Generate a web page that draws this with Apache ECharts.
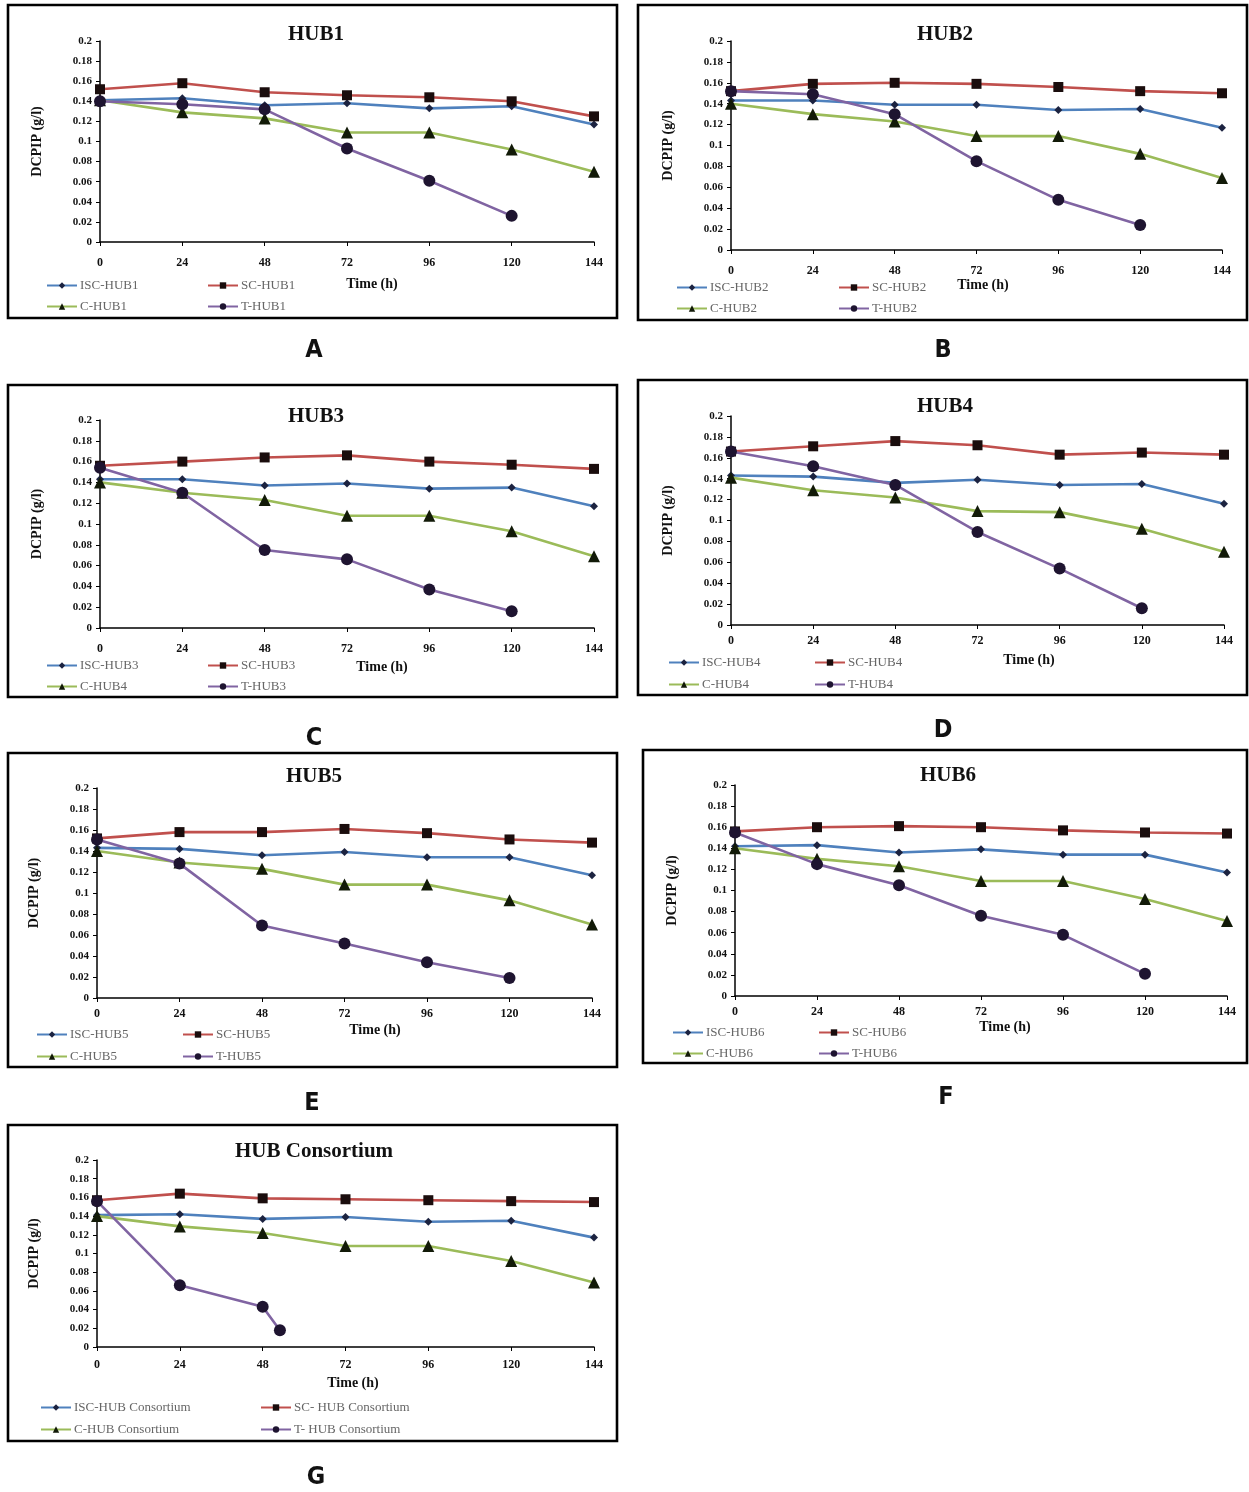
<!DOCTYPE html>
<html>
<head>
<meta charset="utf-8">
<script src="https://cdn.jsdelivr.net/npm/echarts@6/dist/echarts.min.js"></script>
<style>
html,body{margin:0;padding:0;background:#fff;}
#c{width:1249px;height:1492px;}
</style>
</head>
<body>
<div id="c"></div>
<script>
// ---------- DATA ----------
const times = [0, 24, 48, 72, 96, 120, 144];
const xTicks = [0, 24, 48, 72, 96, 120, 144];
const yTicks = [0, 0.02, 0.04, 0.06, 0.08, 0.1, 0.12, 0.14, 0.16, 0.18, 0.2];

const titles = ['HUB1', 'HUB2', 'HUB3', 'HUB4', 'HUB5', 'HUB6', 'HUB Consortium'];
const panelLetters = ['A', 'B', 'C', 'D', 'E', 'F', 'G'];

const names1 = ['ISC-HUB1', 'SC-HUB1', 'C-HUB1', 'T-HUB1'];
const names2 = ['ISC-HUB2', 'SC-HUB2', 'C-HUB2', 'T-HUB2'];
const names3 = ['ISC-HUB3', 'SC-HUB3', 'C-HUB4', 'T-HUB3'];
const names4 = ['ISC-HUB4', 'SC-HUB4', 'C-HUB4', 'T-HUB4'];
const names5 = ['ISC-HUB5', 'SC-HUB5', 'C-HUB5', 'T-HUB5'];
const names6 = ['ISC-HUB6', 'SC-HUB6', 'C-HUB6', 'T-HUB6'];
const names7 = ['ISC-HUB Consortium', 'SC- HUB Consortium', 'C-HUB Consortium', 'T- HUB Consortium'];

const hub1_ISC = [0.141, 0.143, 0.136, 0.138, 0.133, 0.135, 0.117];
const hub1_SC  = [0.152, 0.158, 0.149, 0.146, 0.144, 0.140, 0.125];
const hub1_C   = [0.141, 0.129, 0.123, 0.109, 0.109, 0.092, 0.070];
const hub1_T   = [0.140, 0.137, 0.132, 0.093, 0.061, 0.026];

const hub2_ISC = [0.143, 0.143, 0.139, 0.139, 0.134, 0.135, 0.117];
const hub2_SC  = [0.152, 0.159, 0.160, 0.159, 0.156, 0.152, 0.150];
const hub2_C   = [0.140, 0.130, 0.123, 0.109, 0.109, 0.092, 0.069];
const hub2_T   = [0.152, 0.149, 0.130, 0.085, 0.048, 0.024];

const hub3_ISC = [0.143, 0.143, 0.137, 0.139, 0.134, 0.135, 0.117];
const hub3_SC  = [0.156, 0.160, 0.164, 0.166, 0.160, 0.157, 0.153];
const hub3_C   = [0.140, 0.130, 0.123, 0.108, 0.108, 0.093, 0.069];
const hub3_T   = [0.154, 0.130, 0.075, 0.066, 0.037, 0.016];

const hub4_ISC = [0.143, 0.142, 0.136, 0.139, 0.134, 0.135, 0.116];
const hub4_SC  = [0.166, 0.171, 0.176, 0.172, 0.163, 0.165, 0.163];
const hub4_C   = [0.141, 0.129, 0.122, 0.109, 0.108, 0.092, 0.070];
const hub4_T   = [0.166, 0.152, 0.134, 0.089, 0.054, 0.016];

const hub5_ISC = [0.143, 0.142, 0.136, 0.139, 0.134, 0.134, 0.117];
const hub5_SC  = [0.152, 0.158, 0.158, 0.161, 0.157, 0.151, 0.148];
const hub5_C   = [0.140, 0.129, 0.123, 0.108, 0.108, 0.093, 0.070];
const hub5_T   = [0.151, 0.128, 0.069, 0.052, 0.034, 0.019];

const hub6_ISC = [0.142, 0.143, 0.136, 0.139, 0.134, 0.134, 0.117];
const hub6_SC  = [0.156, 0.160, 0.161, 0.160, 0.157, 0.155, 0.154];
const hub6_C   = [0.140, 0.130, 0.123, 0.109, 0.109, 0.092, 0.071];
const hub6_T   = [0.155, 0.125, 0.105, 0.076, 0.058, 0.021];

const hub7_ISC = [0.141, 0.142, 0.137, 0.139, 0.134, 0.135, 0.117];
const hub7_SC  = [0.157, 0.164, 0.159, 0.158, 0.157, 0.156, 0.155];
const hub7_C   = [0.140, 0.129, 0.122, 0.108, 0.108, 0.092, 0.069];
const hub7_T   = [0.156, 0.066, 0.043, 0.018];
const hub7_T_times = [0, 24, 48, 53];

const allNames = [names1, names2, names3, names4, names5, names6, names7];
const allData = [
  [hub1_ISC, hub1_SC, hub1_C, hub1_T],
  [hub2_ISC, hub2_SC, hub2_C, hub2_T],
  [hub3_ISC, hub3_SC, hub3_C, hub3_T],
  [hub4_ISC, hub4_SC, hub4_C, hub4_T],
  [hub5_ISC, hub5_SC, hub5_C, hub5_T],
  [hub6_ISC, hub6_SC, hub6_C, hub6_T],
  [hub7_ISC, hub7_SC, hub7_C, hub7_T]
];
const tTimes = [times, times, times, times, times, times, hub7_T_times];

// ---------- LAYOUT / STYLE ----------
const layout = [
  {box:[8,5,617,318],    grid:[100,41,594,242],   xl:264,  leg:[285,305], legX:[46,207],  time:[372,284],  title:[314,31],   letter:[314,350]},
  {box:[638,5,1247,320], grid:[731,41,1222,250],  xl:272,  leg:[287,307], legX:[676,838], time:[983,285],  title:[943,31],   letter:[943,350]},
  {box:[8,385,617,697],  grid:[100,420,594,628],  xl:650,  leg:[665,685], legX:[46,207],  time:[382,667],  title:[314,413],  letter:[314,738]},
  {box:[638,380,1247,695],grid:[731,416,1224,625],xl:642,  leg:[662,683], legX:[668,814], time:[1029,660], title:[943,403],  letter:[943,730]},
  {box:[8,753,617,1067], grid:[97,788,592,998],   xl:1015, leg:[1034,1055],legX:[36,182], time:[375,1030], title:[312,773],  letter:[312,1103]},
  {box:[643,750,1247,1063],grid:[735,785,1227,996],xl:1013,leg:[1032,1052],legX:[672,818],time:[1005,1027],title:[946,772],  letter:[946,1097]},
  {box:[8,1125,617,1441],grid:[97,1160,594,1347], xl:1366, leg:[1407,1428],legX:[40,260], time:[353,1383], title:[312,1148], letter:[316,1477]}
];

const lineColors = ['#4F81BD', '#C0504D', '#9BBB59', '#8064A2'];
const markerColors = ['#1c2340', '#1a0d0d', '#121a08', '#1e1430'];
const symbols = ['diamond', 'rect', 'triangle', 'circle'];
const symbolSizes = [8, 10, 12, 12];
const SERIF = '"Liberation Serif", "Times New Roman", serif';

const grids = [], xAxes = [], yAxes = [], series = [], legends = [], titleComps = [], graphics = [];

layout.forEach((L, i) => {
  const [gl, gt, gr, gb] = L.grid;
  grids.push({left: gl, top: gt, width: gr - gl, height: gb - gt, containLabel: false});
  xAxes.push({
    type: 'value', gridIndex: i, min: xTicks[0], max: xTicks[xTicks.length - 1], interval: 24,
    axisLine: {show: true, lineStyle: {color: '#000', width: 1.5}},
    axisTick: {show: true, inside: false, length: 4, lineStyle: {color: '#000'}},
    axisLabel: {color: '#111', fontFamily: SERIF, fontWeight: 'bold', fontSize: 12, margin: L.xl - gb - 7},
    splitLine: {show: false}
  });
  yAxes.push({
    type: 'value', gridIndex: i, min: yTicks[0], max: yTicks[yTicks.length - 1], interval: 0.02,
    axisLine: {show: true, lineStyle: {color: '#000', width: 1.5}},
    axisTick: {show: true, length: 4, lineStyle: {color: '#000'}},
    axisLabel: {color: '#111', fontFamily: SERIF, fontWeight: 'bold', fontSize: 11, margin: 8},
    splitLine: {show: false},
    name: 'DCPIP (g/l)', nameLocation: 'middle', nameRotate: 90, nameGap: 56,
    nameTextStyle: {color: '#111', fontFamily: SERIF, fontWeight: 'bold', fontSize: 14}
  });
  const names = allNames[i];
  allData[i].forEach((vals, k) => {
    const ts = k === 3 ? tTimes[i] : times;
    series.push({
      type: 'line', name: names[k], xAxisIndex: i, yAxisIndex: i,
      data: vals.map((v, j) => [ts[j], v]),
      symbol: symbols[k], symbolSize: symbolSizes[k], showAllSymbol: true,
      lineStyle: {color: lineColors[k], width: 2.6},
      itemStyle: {color: markerColors[k], borderWidth: 0},
      z: 2 + k, animation: false
    });
  });
  titleComps.push({
    text: titles[i], left: L.title[0] - 3, top: L.title[1] - 12, textAlign: 'center',
    textStyle: {fontFamily: SERIF, fontWeight: 'bold', fontSize: 21, color: '#111'}
  });
  const legBase = {
    orient: 'vertical', itemGap: L.leg[1] - L.leg[0] - 12, itemWidth: 30, itemHeight: 8,
    padding: 0, top: L.leg[0] - 6, selectedMode: false,
    textStyle: {fontFamily: SERIF, fontSize: 13, color: '#666', padding: [0, 0, 0, -2]}
  };
  legends.push(Object.assign({}, legBase, {left: L.legX[0], data: [names[0], names[2]]}));
  legends.push(Object.assign({}, legBase, {left: L.legX[1], data: [names[1], names[3]]}));

  const [bx1, by1, bx2, by2] = L.box;
  graphics.push({type: 'rect', shape: {x: bx1, y: by1, width: bx2 - bx1, height: by2 - by1},
    style: {fill: 'none', stroke: '#000', lineWidth: 2.6}, silent: true});
  graphics.push({type: 'text', x: L.time[0], y: L.time[1],
    style: {text: 'Time (h)', font: 'bold 14px ' + SERIF, fill: '#111', align: 'center', verticalAlign: 'middle'}});
  graphics.push({type: 'text', x: L.letter[0], y: L.letter[1],
    style: {text: panelLetters[i], font: 'bold 25px "DejaVu Sans Condensed", "Liberation Sans Narrow", sans-serif', fill: '#111', align: 'center', verticalAlign: 'middle'}});
});

const chart = echarts.init(document.getElementById('c'), null, {renderer: 'canvas'});
chart.setOption({
  backgroundColor: '#fff',
  animation: false,
  title: titleComps,
  grid: grids,
  xAxis: xAxes,
  yAxis: yAxes,
  legend: legends,
  series: series,
  graphic: graphics
});
</script>
</body>
</html>
